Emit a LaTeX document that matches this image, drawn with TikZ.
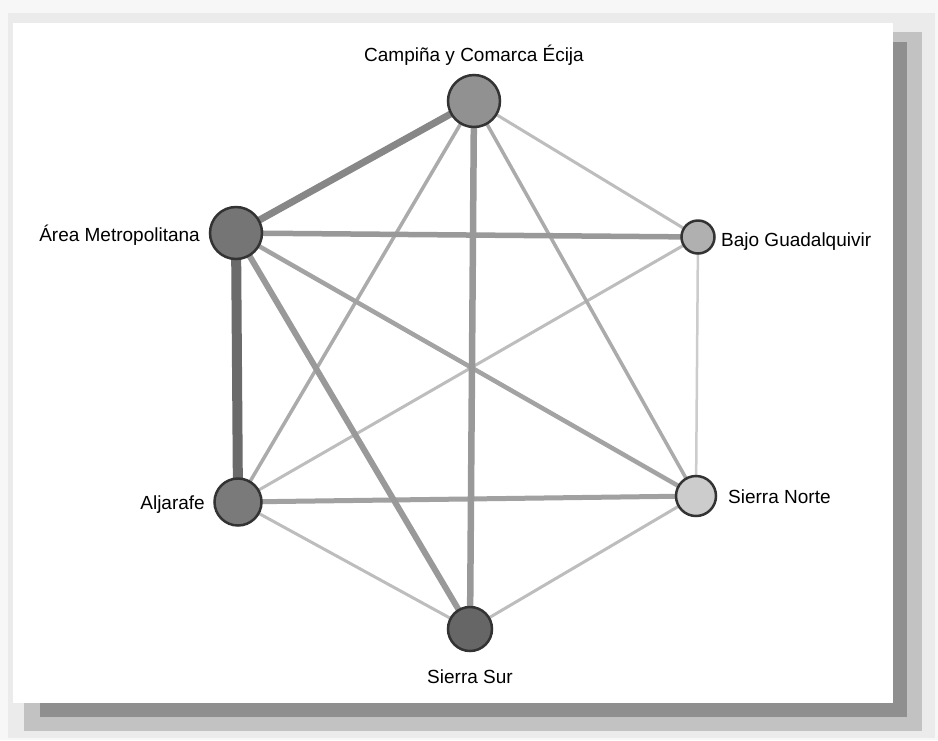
\documentclass[tikz,border=0pt]{standalone}
\usepackage{fontspec}
\setmainfont{Liberation Sans}
\usepackage{tikz}
\pgfdeclarelayer{panel}
\pgfdeclarelayer{links}
\pgfsetlayers{panel,links,main}

\begin{document}
\begin{tikzpicture}
    [   x=1pt
    ,   y=-1pt
    ,   comarca/.style=
        {   draw=black!80
        ,   circle
        ,   line width=2.5pt
        ,   inner sep=0pt
        }
    ,   lbl/.style=
        {   inner sep=0pt
        ,   font=\fontsize{19}{23}\selectfont
        }
    ]
    \useasboundingbox (0,0) rectangle (938,740);
    % shadowed panel
    \begin{pgfonlayer}{panel}
        \fill[black!3] (0,0) rectangle (938,740);
        \fill[black!8] (8,13) rectangle (935,738);
        \fill[black!24] (24,32) rectangle (922,731);
        \fill[black!44] (40,42) rectangle (907,717);
        \fill[white] (13,23) rectangle (893,703);
    \end{pgfonlayer}
    % comarcas
    \node[comarca, fill=black!43, minimum size=52pt] (camp) at (474,101) {};
    \node[comarca, fill=black!54, minimum size=52pt] (area) at (236,233) {};
    \node[comarca, fill=black!31, minimum size=33pt] (bajo) at (698,237) {};
    \node[comarca, fill=black!20, minimum size=40pt] (snorte) at (696,496) {};
    \node[comarca, fill=black!60, minimum size=44pt] (ssur) at (470,629) {};
    \node[comarca, fill=black!52, minimum size=47pt] (aljar) at (238,502) {};
    % names
    \node[lbl, anchor=base] (campL) at (474,61) {Campiña y Comarca Écija};
    \node[lbl, anchor=base east] (areaL) at (200,241) {Área Metropolitana};
    \node[lbl, anchor=base west] (bajoL) at (721,246) {Bajo Guadalquivir};
    \node[lbl, anchor=base west] (snorteL) at (728,503) {Sierra Norte};
    \node[lbl, anchor=base east] (aljarL) at (205,509) {Aljarafe};
    \node[lbl, anchor=base] (ssurL) at (470,683) {Sierra Sur};
    % links
    \begin{pgfonlayer}{links}
        \foreach\a/\b/\w/\g in
        {   bajo/snorte/2.5/20
        ,   camp/bajo/3/26
        ,   bajo/aljar/3/26
        ,   aljar/ssur/3/26
        ,   snorte/ssur/3/26
        ,   camp/aljar/3.5/33
        ,   camp/snorte/3.5/33
        ,   area/snorte/4.5/36
        ,   aljar/snorte/5/37
        ,   area/bajo/5.5/40
        ,   area/ssur/6/40
        ,   camp/ssur/6.5/40
        ,   camp/area/7/47
        ,   area/aljar/10/58
        }
        {   \draw[line width=\w pt, black!\g] (\a.center) -- (\b.center);
        }
    \end{pgfonlayer}
\end{tikzpicture}
\end{document}
